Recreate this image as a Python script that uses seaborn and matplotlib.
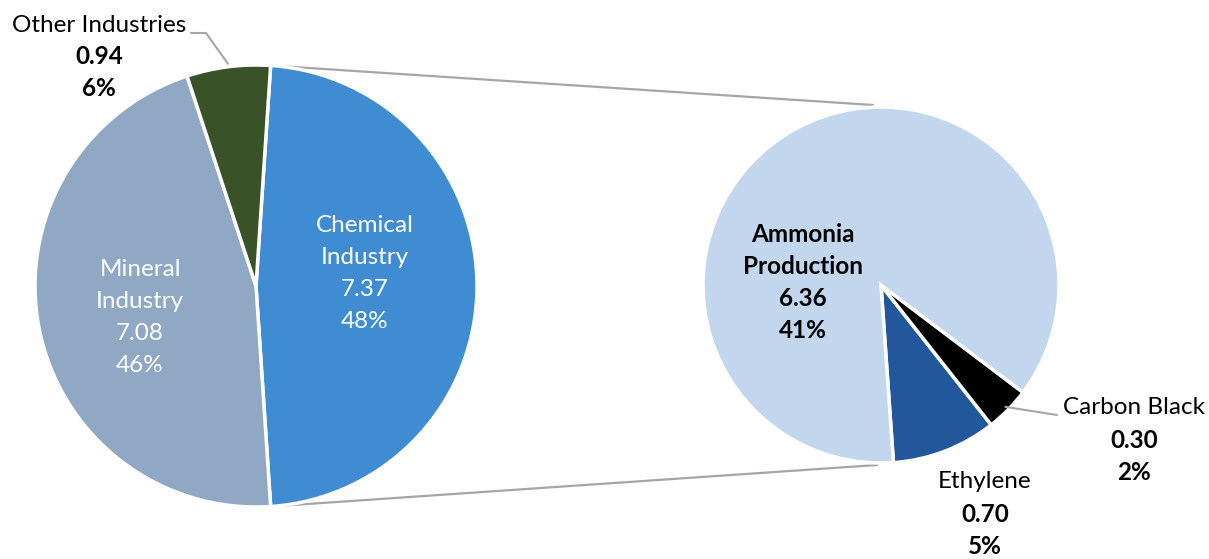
import numpy as np
import matplotlib
matplotlib.use("Agg")
import matplotlib.pyplot as plt
import seaborn as sns

# Primary split: industrial process emissions by sector
main_labels = ["Chemical\nIndustry", "Mineral\nIndustry", "Other Industries"]
main_values = [7.37, 7.08, 0.94]
main_pcts = ["48%", "46%", "6%"]

# Breakdown of the chemical industry
sub_labels = ["Ethylene", "Carbon Black", "Ammonia\nProduction"]
sub_values = [0.70, 0.30, 6.36]
sub_pcts = ["5%", "2%", "41%"]

main_colors = ["#3F8CD3", "#90A8C4", "#3A5227"]
sub_colors = ["#23579C", "#000000", "#C2D6EE"]

sns.set_theme(style="white")
plt.rcParams["font.family"] = ["Lato", "DejaVu Sans"]

W, H = 1209, 559
fig = plt.figure(figsize=(W / 100, H / 100), dpi=100)
ax = fig.add_axes([0, 0, 1, 1])
ax.set_xlim(0, W)
ax.set_ylim(0, H)
ax.set_aspect("equal")
ax.axis("off")

c1, r1 = (256, 273), 221
c2, r2 = (881, 274), 178

# Left pie: chemical wedge centred on the right-hand side
start1 = 180.0 * main_values[0] / sum(main_values)
w1, _ = ax.pie(main_values, colors=main_colors, startangle=start1,
               counterclock=False, center=c1, radius=r1,
               wedgeprops=dict(edgecolor="white", linewidth=2.5), frame=True)

# Right pie: ammonia dominates, small wedges pulled out slightly
w2, _ = ax.pie(sub_values, colors=sub_colors, startangle=-86,
               counterclock=True, center=c2, radius=r2,
               explode=[0.06, 0.06, 0],
               wedgeprops=dict(edgecolor="white", linewidth=2.5), frame=True)
ax.set_xlim(0, W)
ax.set_ylim(0, H)
ax.axis("off")

def pt(center, r, ang):
    a = np.deg2rad(ang)
    return center[0] + r * np.cos(a), center[1] + r * np.sin(a)

# Connector lines between the chemical wedge and the breakdown pie
chem = w1[0]
p_top = pt(c1, r1, chem.theta2)
p_bot = pt(c1, r1, chem.theta1)
ax.plot([p_top[0], c2[0] - 8], [p_top[1], c2[1] + r2 + 2], color="#A6A6A6",
        lw=1.6, zorder=0)
ax.plot([p_bot[0], c2[0] - 4], [p_bot[1], c2[1] - r2 - 2], color="#A6A6A6",
        lw=1.6, zorder=0)

FS = 17.5
STEP = 32

def block(x, ytop, lines, color="black", weights=None):
    for i, s in enumerate(lines):
        wgt = weights[i] if weights else "normal"
        ax.text(x, H - (ytop + i * STEP), s, ha="center", va="center",
                fontsize=FS, color=color, fontweight=wgt, zorder=5)

def fmt(v):
    return f"{v:.2f}"

# Inside labels
block(365, 226, main_labels[0].split("\n") + [fmt(main_values[0]), main_pcts[0]],
      color="white")
block(140, 270, main_labels[1].split("\n") + [fmt(main_values[1]), main_pcts[1]],
      color="white")
block(803, 235, sub_labels[2].split("\n") + [fmt(sub_values[2]), sub_pcts[2]],
      weights=["bold"] * 4)

# Outside labels
block(99, 25, [main_labels[2], fmt(main_values[2]), main_pcts[2]],
      weights=["normal", "bold", "bold"])
block(1134, 408, [sub_labels[1], fmt(sub_values[1]), sub_pcts[1]],
      weights=["normal", "bold", "bold"])
block(985, 482, [sub_labels[0], fmt(sub_values[0]), sub_pcts[0]],
      weights=["normal", "bold", "bold"])

# Leader lines for the small outside-labelled wedges
oth = w1[2]
mid = 0.5 * (oth.theta1 + oth.theta2)
e = pt(c1, r1 + 3, mid)
ax.plot([191, 206, e[0]], [H - 33, H - 33, e[1]], color="#A6A6A6", lw=1.5, zorder=4)

cb = w2[1]
mid = 0.5 * (cb.theta1 + cb.theta2)
e = pt(cb.center, r2 - 4, mid)
ax.plot([e[0], 1057], [e[1], H - 415], color="#A6A6A6", lw=1.5, zorder=4)

fig.savefig("out.png", dpi=100, facecolor="white")
